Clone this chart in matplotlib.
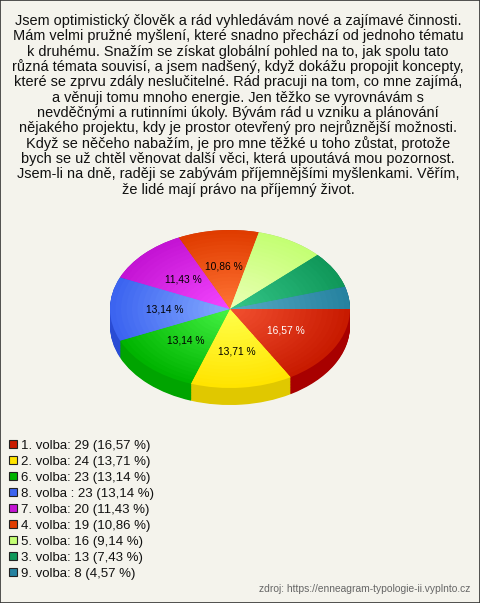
import numpy as np
import matplotlib
matplotlib.use("Agg")
import matplotlib.pyplot as plt
from matplotlib.patches import Rectangle
from matplotlib.colors import to_rgb

title_lines = [
    "Jsem optimistický člověk a rád vyhledávám nové a zajímavé činnosti.",
    "Mám velmi pružné myšlení, které snadno přechází od jednoho tématu",
    "k druhému. Snažím se získat globální pohled na to, jak spolu tato",
    "různá témata souvisí, a jsem nadšený, když dokážu propojit koncepty,",
    "které se zprvu zdály neslučitelné. Rád pracuji na tom, co mne zajímá,",
    "a věnuji tomu mnoho energie. Jen těžko se vyrovnávám s",
    "nevděčnými a rutinními úkoly. Bývám rád u vzniku a plánování",
    "nějakého projektu, kdy je prostor otevřený pro nejrůznější možnosti.",
    "Když se něčeho nabažím, je pro mne těžké u toho zůstat, protože",
    "bych se už chtěl věnovat další věci, která upoutává mou pozornost.",
    "Jsem-li na dně, raději se zabývám příjemnějšími myšlenkami. Věřím,",
    "že lidé mají právo na příjemný život.",
]

categories = ["1. volba", "2. volba", "6. volba", "8. volba ", "7. volba",
              "4. volba", "5. volba", "3. volba", "9. volba"]
values = [29, 24, 23, 23, 20, 19, 16, 13, 8]

outer_colors = ["#c81a00", "#ffe400", "#00b400", "#3c64f0", "#c414d4",
                "#e03c00", "#c4ff74", "#10985a", "#2682a0"]
inner_colors = ["#f25030", "#ffff4a", "#44f244", "#84aaff", "#f446ff",
                "#ff7434", "#eaffb4", "#34c688", "#56aac4"]
side_colors = ["#a80000", "#e0c800", "#00a400", "#2a4cd4", "#a000b4",
               "#c03000", "#a4d468", "#087042", "#106a86"]
label_colors = ["white"] + ["black"] * 8

source = "zdroj: https://enneagram-typologie-ii.vyplnto.cz"

W, H = 480, 603
fig = plt.figure(figsize=(W / 100, H / 100), dpi=100)
bg = "#f4f3ec"
fig.patch.set_facecolor(bg)

FONT = "Liberation Sans"

# title
for i, line in enumerate(title_lines):
    y = 25 + 15.35 * i
    fig.text(238 / W, 1 - y / H, line, ha="center", va="baseline",
             fontsize=10.45, family=FONT, color="#111111")

# pie axes (pixel geometry)
cx, rx = 230, 120
cy, ry = 309, 79
depth = 17
d = depth / ry
ax_bottom_px = cy + ry + depth
ax = fig.add_axes([(cx - rx) / W, 1 - ax_bottom_px / H, 2 * rx / W,
                   (2 * ry + depth) / H])

total = sum(values)
pcts = [100 * v / total for v in values]

# side (extrusion)
for off in np.linspace(d, 0, 24):
    ax.pie(values, colors=side_colors, startangle=0, counterclock=False,
           center=(0, -off), radius=1, wedgeprops=dict(linewidth=0, antialiased=True))

# top with radial gradient
def fmt(p):
    return (f"{p:.2f} %".replace(".", ",")) if p > 10 else ""

res = ax.pie(values, colors=outer_colors, startangle=0, counterclock=False,
             radius=1, autopct=fmt, pctdistance=0.54,
             wedgeprops=dict(linewidth=0),
             textprops=dict(fontsize=7.4, family=FONT))
for t, c in zip(res[2], label_colors):
    t.set_color(c)
    t.set_zorder(10)

n = 22
for k, r in enumerate(np.linspace(1, 0.04, n)[1:]):
    f = (k + 1) / (n - 1)
    cols = [tuple(np.array(to_rgb(o)) * (1 - f) + np.array(to_rgb(i)) * f)
            for o, i in zip(outer_colors, inner_colors)]
    ax.pie(values, colors=cols, startangle=0, counterclock=False, radius=r,
           wedgeprops=dict(linewidth=0))

ax.set_aspect("auto")
ax.set_xlim(-1, 1)
ax.set_ylim(-1 - d, 1)
ax.axis("off")

# legend
for i, (name, v, p, c) in enumerate(zip(categories, values, pcts, outer_colors)):
    y = 444 + 16 * i
    fig.patches.append(Rectangle((9 / W, 1 - (y + 4) / H), 8 / W, 8 / H,
                                 transform=fig.transFigure, facecolor=c,
                                 edgecolor="#222222", linewidth=0.8))
    label = f"{name}: {v} (" + f"{p:.2f}".replace(".", ",") + " %)"
    fig.text(21 / W, 1 - y / H, label, ha="left", va="center_baseline",
             fontsize=9.5, family=FONT, color="#111111")

fig.text(470 / W, 1 - 592 / H, source, ha="right", va="baseline",
         fontsize=7.4, family=FONT, color="#666666")

# border
fig.patches.append(Rectangle((0, 0), 1, 1, transform=fig.transFigure,
                             facecolor="none", edgecolor="#333333", linewidth=1.2))

fig.savefig("out.png", dpi=100, facecolor=bg)
